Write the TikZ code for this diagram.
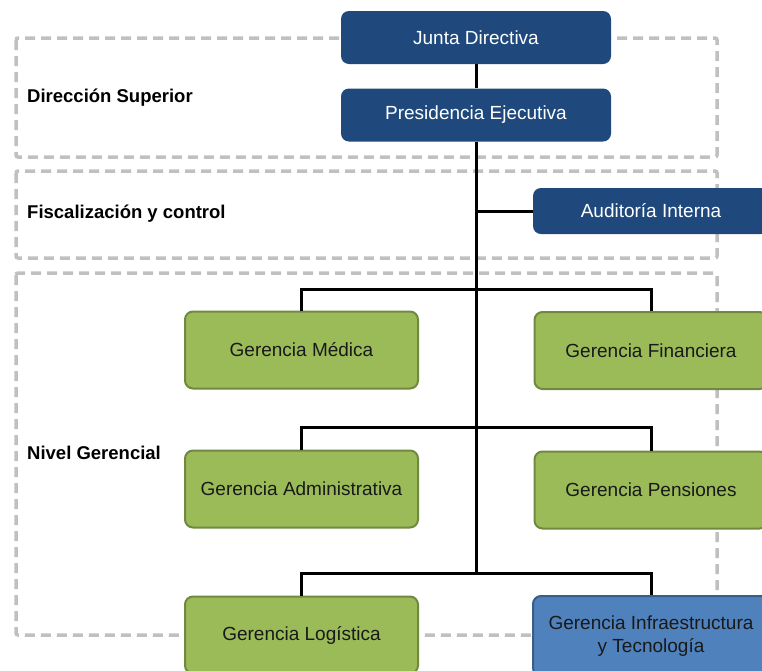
\documentclass[tikz,border=0pt]{standalone}
\usepackage{fontspec}
\setmainfont{Liberation Sans}
\definecolor{dblue}{RGB}{31,73,125}
\definecolor{gfill}{RGB}{155,187,89}
\definecolor{gdraw}{RGB}{113,137,63}
\definecolor{lblue}{RGB}{79,129,189}
\definecolor{ldraw}{RGB}{56,93,138}
\definecolor{dashgray}{RGB}{192,192,192}
\tikzset{
  base/.style={rounded corners=8pt, inner sep=0pt, align=center, font=\fontsize{19}{22.5}\selectfont},
  topbox/.style={base, fill=dblue, text=white, minimum width=270pt, minimum height=53pt},
  audbox/.style={base, fill=dblue, text=white, minimum width=236pt, minimum height=46pt},
  gbox/.style={base, fill=gfill, draw=gdraw, line width=2pt, text=black!90, minimum width=233pt, minimum height=77pt},
  bbox/.style={base, fill=lblue, draw=ldraw, line width=2pt, text=black!90, minimum width=236pt, minimum height=80pt},
  level/.style={dashgray, line width=3.5pt, dash pattern=on 10pt off 6pt, rounded corners=2pt},
  lbl/.style={anchor=west, inner sep=0pt, font=\bfseries\fontsize{18.5}{22}\selectfont},
  conn/.style={black, line width=3pt}
}
\begin{document}
\begin{tikzpicture}[x=1pt,y=-1pt]
\useasboundingbox (0,0) rectangle (762,670);
\clip (0,0) rectangle (762,670);
% level boxes
\draw[level] (16,38) rectangle (717,157);
\draw[level] (16,171) rectangle (717,258);
\draw[level] (16,273) rectangle (717,635);
% labels
\node[lbl] (l1) at (27,98) {Dirección Superior};
\node[lbl] (l2) at (27,214) {Fiscalización y control};
\node[lbl] (l3) at (27,453) {Nivel Gerencial};
% coordinates
\coordinate (a0) at (476,211);
\coordinate (b1) at (476,289);
\coordinate (b2) at (476,427);
\coordinate (b3) at (476,573);
% nodes
\node[topbox] (jd) at (476,37.5) {Junta Directiva};
\node[topbox] (pe) at (476,115) {Presidencia Ejecutiva};
\node[audbox] (ai) at (651,211) {Auditoría Interna};
\node[gbox] (gm) at (301.5,350) {Gerencia Médica};
\node[gbox] (gf) at (651,350.5) {Gerencia Financiera};
\node[gbox] (ga) at (301.5,489) {Gerencia Administrativa};
\node[gbox] (gp) at (651,490) {Gerencia Pensiones};
\node[gbox] (gl) at (301.5,635) {Gerencia Logística};
\node[bbox] (gi) at (651,636) {Gerencia Infraestructura\\y Tecnología};
% connectors
\draw[conn] (jd.south) -- (pe.north);
\draw[conn] (pe.south) -- (b3);
\draw[conn] (a0) -- (ai.west);
\draw[conn] (gm.north) |- (b1) -| (gf.north);
\draw[conn] (ga.north) |- (b2) -| (gp.north);
\draw[conn] (gl.north) |- (b3) -| (gi.north);
\end{tikzpicture}
\end{document}
